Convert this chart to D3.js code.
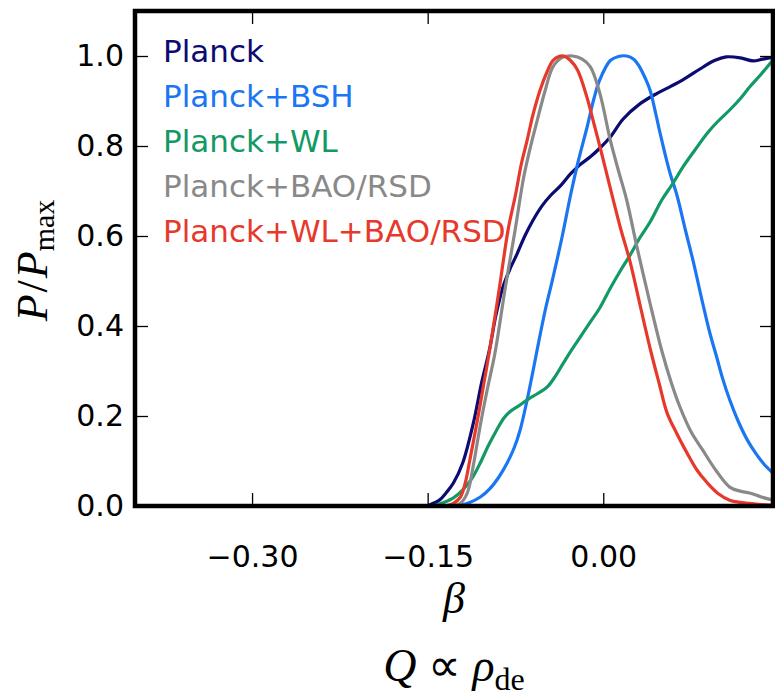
<!DOCTYPE html>
<html>
<head>
<meta charset="utf-8">
<script src="https://cdn.jsdelivr.net/npm/d3@7"></script>
<style>
  body { margin: 0; background: #fff; }
  svg { display: block; }
</style>
</head>
<body>
<svg id="chart" width="775" height="696"></svg>
<script>
// Normalised marginal posteriors of the coupling parameter beta, Q ∝ rho_de
const seriesNames = ["Planck", "Planck+BSH", "Planck+WL", "Planck+BAO/RSD", "Planck+WL+BAO/RSD"];
const seriesColors = ["#0b0b72", "#1a76f2", "#129964", "#898989", "#e6392b"];

// [beta, P/Pmax]
const planck = [[-0.152,0],[-0.148,0.003],[-0.140,0.013],[-0.134,0.03],[-0.128,0.051],[-0.120,0.096],
  [-0.111,0.184],[-0.104,0.273],[-0.097,0.35],[-0.092,0.42],[-0.086,0.484],[-0.080,0.525],[-0.074,0.558],
  [-0.067,0.60],[-0.060,0.635],[-0.052,0.668],[-0.045,0.69],[-0.036,0.713],[-0.028,0.738],[-0.020,0.758],
  [-0.011,0.776],[-0.003,0.795],[0.006,0.82],[0.017,0.86],[0.031,0.893],[0.046,0.917],[0.058,0.933],
  [0.068,0.947],[0.085,0.975],[0.095,0.99],[0.105,0.998],[0.117,0.996],[0.128,0.989],[0.136,0.993],[0.145,0.997]];

const planckBSH = [[-0.125,0],[-0.114,0.008],[-0.105,0.02],[-0.097,0.038],[-0.089,0.065],[-0.082,0.096],
  [-0.076,0.13],[-0.071,0.169],[-0.065,0.236],[-0.061,0.287],[-0.057,0.34],[-0.050,0.43],[-0.043,0.507],
  [-0.035,0.60],[-0.028,0.69],[-0.021,0.77],[-0.014,0.84],[-0.008,0.905],[-0.003,0.947],[0.006,0.99],
  [0.013,0.999],[0.020,1.0],[0.026,0.993],[0.031,0.976],[0.036,0.95],[0.040,0.924],[0.045,0.87],
  [0.0485,0.829],[0.053,0.78],[0.057,0.74],[0.063,0.69],[0.070,0.615],[0.077,0.542],[0.085,0.45],
  [0.091,0.385],[0.097,0.33],[0.102,0.283],[0.108,0.236],[0.115,0.19],[0.123,0.147],[0.130,0.118],
  [0.137,0.094],[0.145,0.073]];

const planckWL = [[-0.145,0],[-0.137,0.007],[-0.128,0.018],[-0.120,0.036],[-0.112,0.062],[-0.105,0.096],
  [-0.098,0.135],[-0.091,0.169],[-0.085,0.195],[-0.080,0.209],[-0.072,0.223],[-0.065,0.236],[-0.056,0.25],
  [-0.048,0.264],[-0.041,0.288],[-0.034,0.318],[-0.027,0.347],[-0.019,0.378],[-0.011,0.409],[-0.003,0.44],
  [0.006,0.484],[0.014,0.52],[0.023,0.558],[0.031,0.595],[0.040,0.631],[0.050,0.68],[0.059,0.715],
  [0.068,0.753],[0.078,0.79],[0.089,0.829],[0.098,0.855],[0.108,0.88],[0.117,0.905],[0.125,0.931],
  [0.135,0.96],[0.145,0.991]];

const planckBAO = [[-0.130,0],[-0.122,0.006],[-0.116,0.03],[-0.111,0.09],[-0.105,0.18],[-0.099,0.26],
  [-0.0925,0.34],[-0.084,0.48],[-0.075,0.618],[-0.068,0.73],[-0.062,0.80],[-0.057,0.851],[-0.050,0.92],
  [-0.043,0.976],[-0.035,0.997],[-0.026,1.0],[-0.018,0.993],[-0.011,0.976],[-0.003,0.918],[0.006,0.813],
  [0.013,0.745],[0.020,0.68],[0.029,0.573],[0.040,0.45],[0.050,0.345],[0.058,0.275],[0.0655,0.22],
  [0.075,0.165],[0.085,0.124],[0.096,0.08],[0.108,0.042],[0.117,0.033],[0.125,0.029],[0.135,0.02],[0.145,0.013]];

const planckWLBAO = [[-0.135,0],[-0.128,0.006],[-0.122,0.02],[-0.118,0.05],[-0.114,0.102],[-0.107,0.198],
  [-0.101,0.287],[-0.097,0.347],[-0.089,0.48],[-0.081,0.618],[-0.075,0.691],[-0.070,0.76],[-0.065,0.813],
  [-0.060,0.87],[-0.054,0.924],[-0.048,0.965],[-0.043,0.99],[-0.038,0.999],[-0.034,1.0],[-0.028,0.99],
  [-0.022,0.969],[-0.014,0.909],[-0.008,0.85],[-0.002,0.79],[0.0075,0.691],[0.015,0.615],[0.023,0.542],
  [0.032,0.44],[0.041,0.34],[0.048,0.27],[0.0545,0.207],[0.063,0.16],[0.0715,0.118],[0.080,0.08],
  [0.089,0.051],[0.098,0.028],[0.108,0.013],[0.117,0.008],[0.125,0.006],[0.135,0.003],[0.145,0.002]];

const seriesValues = [planck, planckBSH, planckWL, planckBAO, planckWLBAO];

const xTickValues = [-0.30, -0.15, 0.00];
const xTickLabels = ["\u22120.30", "\u22120.15", "0.00"];
const yTickValues = [0.0, 0.2, 0.4, 0.6, 0.8, 1.0];
const yTickLabels = ["0.0", "0.2", "0.4", "0.6", "0.8", "1.0"];

// ---- layout ----
const svg = d3.select("#chart");
const plot = { left: 135, right: 773, top: 11, bottom: 506 };

const x = d3.scaleLinear().domain([-0.4, 0.145]).range([plot.left, plot.right]);
const y = d3.scaleLinear().domain([0, 1.1]).range([plot.bottom, plot.top]);

const tickFont = "DejaVu Sans, Bitstream Vera Sans, sans-serif";

// clip for curves
svg.append("defs").append("clipPath").attr("id", "plotClip")
  .append("rect")
  .attr("x", plot.left).attr("y", plot.top)
  .attr("width", plot.right - plot.left).attr("height", plot.bottom - plot.top);

// ---- curves ----
const line = d3.line()
  .x(d => x(d[0]))
  .y(d => y(d[1]))
  .curve(d3.curveCatmullRom.alpha(0.5));

svg.append("g").attr("clip-path", "url(#plotClip)")
  .selectAll("path")
  .data(seriesValues)
  .join("path")
  .attr("d", line)
  .attr("fill", "none")
  .attr("stroke", (d, i) => seriesColors[i])
  .attr("stroke-width", 3.2)
  .attr("stroke-linejoin", "round");

// ---- axes (ticks point inward on all four sides) ----
const tickLen = 13;

const xAxis = d3.axisBottom(x).tickValues(xTickValues)
  .tickFormat((d, i) => xTickLabels[i])
  .tickSizeInner(-tickLen).tickSizeOuter(0).tickPadding(40);
const gx = svg.append("g").attr("transform", `translate(0,${plot.bottom})`).call(xAxis);

const xAxisTop = d3.axisTop(x).tickValues(xTickValues).tickFormat("")
  .tickSizeInner(-tickLen).tickSizeOuter(0);
const gxt = svg.append("g").attr("transform", `translate(0,${plot.top})`).call(xAxisTop);

const yAxis = d3.axisLeft(y).tickValues(yTickValues)
  .tickFormat((d, i) => yTickLabels[i])
  .tickSizeInner(-tickLen).tickSizeOuter(0).tickPadding(11);
const gy = svg.append("g").attr("transform", `translate(${plot.left},0)`).call(yAxis);

const yAxisRight = d3.axisRight(y).tickValues(yTickValues).tickFormat("")
  .tickSizeInner(-tickLen).tickSizeOuter(0);
const gyr = svg.append("g").attr("transform", `translate(${plot.right},0)`).call(yAxisRight);

[gx, gxt, gy, gyr].forEach(g => {
  g.select(".domain").remove();
  g.selectAll(".tick line").attr("stroke", "#000").attr("stroke-width", 1.3);
  g.selectAll(".tick text")
    .attr("fill", "#000")
    .style("font-family", tickFont)
    .style("font-size", "30px");
});

// ---- frame ----
svg.append("rect")
  .attr("x", plot.left).attr("y", plot.top)
  .attr("width", plot.right - plot.left).attr("height", plot.bottom - plot.top)
  .attr("fill", "none").attr("stroke", "#000").attr("stroke-width", 4.5);

// ---- legend ----
svg.append("g").selectAll("text")
  .data(seriesNames)
  .join("text")
  .attr("x", 163)
  .attr("y", (d, i) => 62 + i * 45)
  .attr("fill", (d, i) => seriesColors[i])
  .style("font-family", tickFont)
  .style("font-size", "31px")
  .text(d => d);

// ---- axis labels ----
const mathFont = "Liberation Serif, Times New Roman, serif";
const cx = (plot.left + plot.right) / 2;

const yLab = svg.append("text")
  .attr("transform", `translate(47,${(plot.top + plot.bottom) / 2 + 2}) rotate(-90)`)
  .attr("text-anchor", "middle")
  .style("font-family", mathFont)
  .style("font-size", "44px")
  .attr("fill", "#000");
yLab.append("tspan").style("font-style", "italic").text("P");
yLab.append("tspan").attr("dx", 2).text("/");
yLab.append("tspan").attr("dx", 2).style("font-style", "italic").text("P");
yLab.append("tspan").attr("dy", 7).style("font-size", "30px").text("max");

svg.append("text")
  .attr("x", cx).attr("y", 613)
  .attr("text-anchor", "middle")
  .style("font-family", mathFont)
  .style("font-style", "italic")
  .style("font-size", "44px")
  .attr("fill", "#000")
  .text("\u03B2");

const title = svg.append("text")
  .attr("x", cx).attr("y", 681)
  .attr("text-anchor", "middle")
  .style("font-family", mathFont)
  .style("font-size", "46px")
  .attr("fill", "#000");
title.append("tspan").style("font-style", "italic").text("Q");
title.append("tspan").text(" \u221D ");
title.append("tspan").style("font-style", "italic").text("\u03C1");
title.append("tspan").attr("dy", 9).style("font-size", "32px").text("de");
</script>
</body>
</html>
